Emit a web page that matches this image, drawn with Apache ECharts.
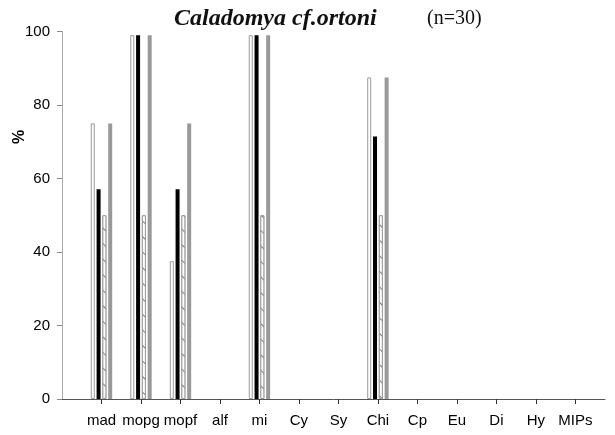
<!DOCTYPE html>
<html>
<head>
<meta charset="utf-8">
<script src="https://cdn.jsdelivr.net/npm/echarts@6/dist/echarts.min.js"></script>
<style>html,body{margin:0;padding:0;background:#fff}#c{width:615px;height:435px}</style>
</head>
<body>
<div id="c"></div>
<script>
var categories = ['mad','mopg','mopf','alf','mi','Cy','Sy','Chi','Cp','Eu','Di','Hy','MIPs'];
var seriesWhite  = [75, 99, 37.5, 0, 99, 0, 0, 87.5, 0, 0, 0, 0, 0];
var seriesBlack  = [57.1, 99, 57.1, 0, 99, 0, 0, 71.4, 0, 0, 0, 0, 0];
var seriesHatch  = [50, 50, 50, 0, 50, 0, 0, 50, 0, 0, 0, 0, 0];
var seriesGray   = [75, 99, 75, 0, 99, 0, 0, 87.5, 0, 0, 0, 0, 0];
var yTicks = [0, 20, 40, 60, 80, 100];
var titleMain = 'Caladomya cf.ortoni';
var titleN = '(n=30)';
var yName = '%';

// zero values produce no visible bar
function pairs(arr){
  var out = [];
  arr.forEach(function(v,i){ out.push(v > 0 ? [i+1, v] : [i+1, '-']); });
  return out;
}
var positions = categories.map(function(c,i){ return i+1; });

var chart = echarts.init(document.getElementById('c'), null, {renderer:'canvas'});
var option = {
  animation: false,
  backgroundColor: '#fff',
  title: [
    {text: titleMain, left: 169, top: 2, textStyle:{fontFamily:'Liberation Serif', fontStyle:'italic', fontWeight:'bold', fontSize:24, color:'#111'}},
    {text: titleN, left: 422, top: 4, textStyle:{fontFamily:'Liberation Serif', fontWeight:'normal', fontSize:20, color:'#111'}}
  ],
  graphic: [
    {type:'text', x:20, y:137, rotation: Math.PI/2, style:{text: yName, font:'bold 16px "Liberation Sans"', fill:'#000', align:'center', verticalAlign:'middle'}}
  ],
  grid: {left: 62, right: 10, top: 31.5, bottom: 36, containLabel: false},
  xAxis: {
    type: 'value', min: 0, max: 13.75,
    splitLine: {show:false},
    axisLine: {show:true, lineStyle:{color:'#555', width:1}},
    axisTick: {show:true, length:5, customValues: positions, lineStyle:{color:'#333'}},
    axisLabel: {show:true, customValues: positions, margin: 14, fontFamily:'Liberation Sans', fontSize:15, color:'#000',
      formatter: function(v){ var i = Math.round(v)-1; return categories[i] || ''; }}
  },
  yAxis: {
    type: 'value', min: 0, max: 100, interval: 20,
    splitLine: {show:false},
    axisLine: {show:true, lineStyle:{color:'#aaa', width:1}},
    axisTick: {show:true, length:5, lineStyle:{color:'#888'}},
    axisLabel: {margin: 12, fontFamily:'Liberation Sans', fontSize:15, color:'#000',
      formatter: function(v){ return yTicks.indexOf(v) >= 0 ? String(v) : ''; }}
  },
  series: [
    {type:'bar', data: pairs(seriesWhite), barWidth: 4, barGap: '45%',
     itemStyle:{color:'#fff', borderColor:'#999', borderWidth:1}},
    {type:'bar', data: pairs(seriesBlack), barWidth: 4, barGap: '45%',
     itemStyle:{color:'#000', borderColor:'#000', borderWidth:0}},
    {type:'bar', data: pairs(seriesHatch), barWidth: 4, barGap: '45%',
     itemStyle:{color:'#fff', borderColor:'#999', borderWidth:1,
       decal:{symbol:'rect', symbolSize:1, color:'#777', backgroundColor:'#fff', dashArrayX:[1,0], dashArrayY:[1,10], rotation:Math.PI/4}}},
    {type:'bar', data: pairs(seriesGray), barWidth: 4, barGap: '45%',
     itemStyle:{color:'#999', borderColor:'#888', borderWidth:0}}
  ]
};
chart.setOption(option);
</script>
</body>
</html>
